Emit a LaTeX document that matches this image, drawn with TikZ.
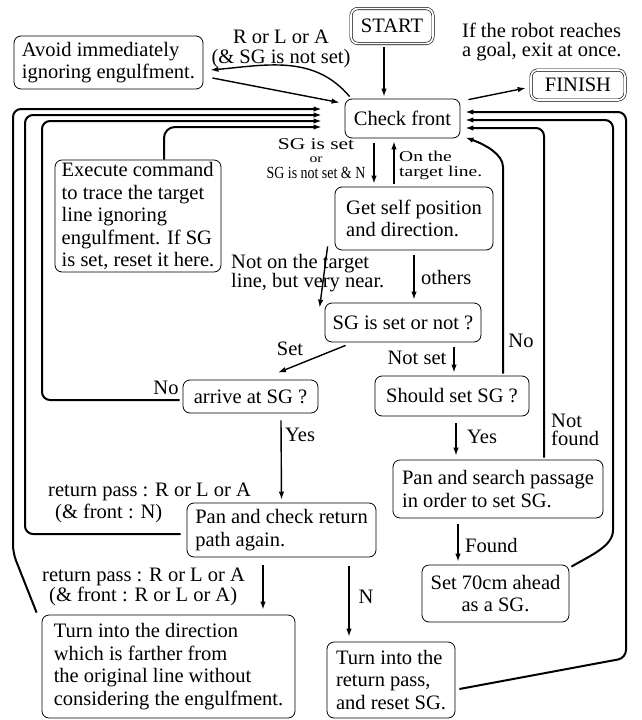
\documentclass[tikz,border=0pt]{standalone}
\usepackage{fontspec}
\setmainfont{Liberation Serif}
\newfontfamily\widefont[FakeStretch=1.3]{Liberation Serif}
\newfontfamily\narrowfont[FakeStretch=0.82]{Liberation Serif}
\usetikzlibrary{arrows.meta}
\newcommand{\mainsize}{\fontsize{20.5}{22.5}\selectfont}

\begin{document}
\begin{tikzpicture}[
    x=1pt, y=-1pt,
    box/.style={draw, line width=0.8pt, rounded corners=7pt, align=left, font=\mainsize, inner sep=0pt},
    endbox/.style={draw, double, double distance=1.8pt, line width=0.6pt, rounded corners=7pt, font=\mainsize, inner sep=0pt},
    txt/.style={font=\mainsize, inner sep=0pt},
    arrow/.style={-{Latex[length=8pt, width=5.5pt]}, line width=1.4pt},
    loopline/.style={-{Latex[length=8pt, width=5.5pt]}, line width=2pt, rounded corners=8pt}
]
    \useasboundingbox (0,0) rectangle (642,720);

    % Boxes
    \node[endbox, minimum width=82pt, minimum height=35pt] (start) at (392,26) {START};
    \node[endbox, minimum width=94pt, minimum height=30pt] (finish) at (578,85) {FINISH};
    \node[box, minimum width=189pt, minimum height=53pt] (avoid) at (108.5,62.5) {Avoid immediately\\ignoring engulfment.};
    \node[box, align=center, minimum width=115pt, minimum height=39pt] (front) at (402.5,118.5) {Check front};
    \node[box, minimum width=166pt, minimum height=112pt] (exec) at (138,216)
        {Execute command\\to trace the target\\line ignoring\\engulfment. If SG\\is set, reset it here.};
    \node[box, minimum width=158pt, minimum height=63pt] (getself) at (414,218.5) {Get self position\\and direction.};
    \node[box, align=center, minimum width=156pt, minimum height=39pt] (sgset) at (403,322.5) {SG is set or not ?};
    \node[box, align=center, minimum width=135pt, minimum height=33pt] (arrive) at (250.5,396.5) {arrive at SG ?};
    \node[box, align=center, minimum width=154pt, minimum height=40pt] (should) at (452,396) {Should set SG ?};
    \node[box, minimum width=210pt, minimum height=58pt] (pansearch) at (498,489) {Pan and search passage\\in order to set SG.};
    \node[box, minimum width=189pt, minimum height=54pt] (pancheck) at (281.5,530) {Pan and check return\\path again.};
    \node[box, align=center, minimum width=147pt, minimum height=57pt] (set70) at (495.5,593.5) {Set 70cm ahead\\as a SG.};
    \node[box, minimum width=253pt, minimum height=103pt] (turndir) at (168.5,666.5)
        {Turn into the direction\\which is farther from\\the original line without\\considering the engulfment.};
    \node[box, minimum width=128pt, minimum height=76pt] (turnret) at (391,680) {Turn into the\\return pass,\\and reset SG.};

    % Labels
    \node[txt, align=center] (lblavoid) at (281,49) {R or L or A\\[-3pt](\& SG is not set)};
    \node[txt, align=left, anchor=west] (lblgoal) at (462,42) {If the robot reaches\\[-3pt]a goal, exit at once.};
    \node[txt, align=center, font=\fontsize{14}{14}\selectfont] (lblsg) at (316,159)
        {{\widefont\fontsize{16.5}{16.5}\selectfont SG is set}\\[-1pt]{\widefont\fontsize{12}{12}\selectfont or}\\[2pt]{\narrowfont\fontsize{17}{17}\selectfont SG is not set \& N}};
    \node[txt, align=left, anchor=west, font=\widefont\fontsize{15}{15}\selectfont] (lbltarget) at (399,165) {On the\\target line.};
    \node[txt, align=left, anchor=west] (lblnear) at (231,273) {Not on the target\\[-4pt]line, but very near.};
    \node[txt, anchor=west] (lblothers) at (421,277) {others};
    \node[txt] (lblset) at (290,349) {Set};
    \node[txt] (lblnotset) at (417,358) {Not set};
    \node[txt] (lblnoright) at (521,341) {No};
    \node[txt] (lblnoleft) at (166,388) {No};
    \node[txt, anchor=west] (lblyesleft) at (285,435) {Yes};
    \node[txt, anchor=west] (lblyesright) at (467,437) {Yes};
    \node[txt, align=left, anchor=west] (lblnotfound) at (551,430) {Not\\[-4pt]found};
    \node[txt, anchor=west] (lblfound) at (465,545) {Found};
    \node[txt, align=left, anchor=west] (lblret1) at (48,503) {return pass : R or L or A\\[-1pt]\hspace{7pt}(\& front : N)};
    \node[txt, align=left, anchor=west] (lblret2) at (42,587) {return pass : R or L or A\\[-3pt]\hspace{7pt}(\& front : R or L or A)};
    \node[txt] (lbln) at (366,597) {N};

    % Arrows between boxes
    \draw[arrow] ([xshift=-8pt,yshift=-3pt]start.south) -- ([xshift=-18.5pt,yshift=2pt]front.north);
    \draw[arrow] ([xshift=8pt,yshift=-1pt]front.north east) -- ([xshift=-5pt,yshift=-3pt]finish.west);
    \draw[arrow] ([xshift=5pt,yshift=2pt]front.north west) to[out=130, in=5] ([xshift=7pt,yshift=-7.5pt]avoid.east);
    \draw[arrow] ([xshift=9pt,yshift=-15.5pt]avoid.east) -- ([xshift=-5pt,yshift=-4pt]front.north west);
    \draw[arrow] ([xshift=-28.5pt,yshift=-5pt]front.south) -- ([xshift=-40pt,yshift=3pt]getself.north);
    \draw[arrow] ([xshift=-20pt,yshift=3pt]getself.north) -- ([xshift=-8.5pt,yshift=-3pt]front.south);
    \draw[arrow] ([xshift=-7pt,yshift=4pt]getself.south west) -- ([xshift=-5pt,yshift=-5pt]sgset.north west);
    \draw[arrow] ([yshift=-5pt]getself.south) -- ([xshift=11pt,yshift=3pt]sgset.north);
    \draw[arrow] ([xshift=21pt,yshift=-3pt]sgset.south west) -- ([xshift=27.5pt,yshift=7pt]arrive.north);
    \draw[arrow] ([xshift=51pt,yshift=-5pt]sgset.south) -- ([xshift=2pt,yshift=3pt]should.north);
    \draw[arrow] ([xshift=30.5pt,yshift=-7pt]arrive.south) -- ([yshift=3pt]pancheck.north);
    \draw[arrow] ([xshift=4pt,yshift=-7pt]should.south) -- ([xshift=-42pt,yshift=4pt]pansearch.north);
    \draw[arrow] ([xshift=-40pt,yshift=-6pt]pansearch.south) -- ([xshift=-37.5pt,yshift=3pt]set70.north);
    \draw[arrow] ([xshift=-18.5pt,yshift=-8pt]pancheck.south) -- ([xshift=94.5pt,yshift=5pt]turndir.north);
    \draw[arrow] ([xshift=67.5pt,yshift=-9pt]pancheck.south) -- ([xshift=-42pt,yshift=5pt]turnret.north);

    % Entry points back into Check front
    \coordinate (inA) at ([xshift=-23pt,yshift=9.5pt]front.west);
    \coordinate (inB) at ([xshift=-23pt,yshift=3.5pt]front.west);
    \coordinate (inC) at ([xshift=-23pt,yshift=-2.5pt]front.west);
    \coordinate (inD) at ([xshift=-23pt,yshift=-8.5pt]front.west);
    \coordinate (inE) at ([xshift=5pt,yshift=6.5pt]front.east);
    \coordinate (inF) at ([xshift=5pt,yshift=-1.5pt]front.east);
    \coordinate (inG) at ([xshift=5pt,yshift=-9.5pt]front.east);
    \coordinate (inH) at ([xshift=5pt,yshift=1pt]front.south east);

    % Loops on the left
    \draw[loopline] ([xshift=-5pt,yshift=2pt]turndir.north west) -- (13,553) |- (inA);
    \draw[loopline] ([xshift=-6pt,yshift=-4pt]pancheck.west) -| (25,115) -- (inB);
    \draw[loopline] ([xshift=-3pt,yshift=-3.5pt]arrive.west) -| (42,121) -- (inC);
    \draw[loopline, rounded corners=11pt] ([xshift=26pt]exec.north) |- (inD);

    % Loops on the right
    \draw[loopline] ([xshift=4pt,yshift=-9pt]turnret.east) -- (626,658) |- (inE);
    \draw[loopline] ([xshift=2pt,yshift=-2pt]set70.north east) to[out=30, in=-90] (613,522) |- (inF);
    \draw[loopline] ([xshift=46pt,yshift=2pt]pansearch.north) |- (inG);
    \draw[loopline] ([xshift=51pt,yshift=2pt]should.north) -- (503,175) to[out=90, in=-20] (inH);

\end{tikzpicture}
\end{document}
